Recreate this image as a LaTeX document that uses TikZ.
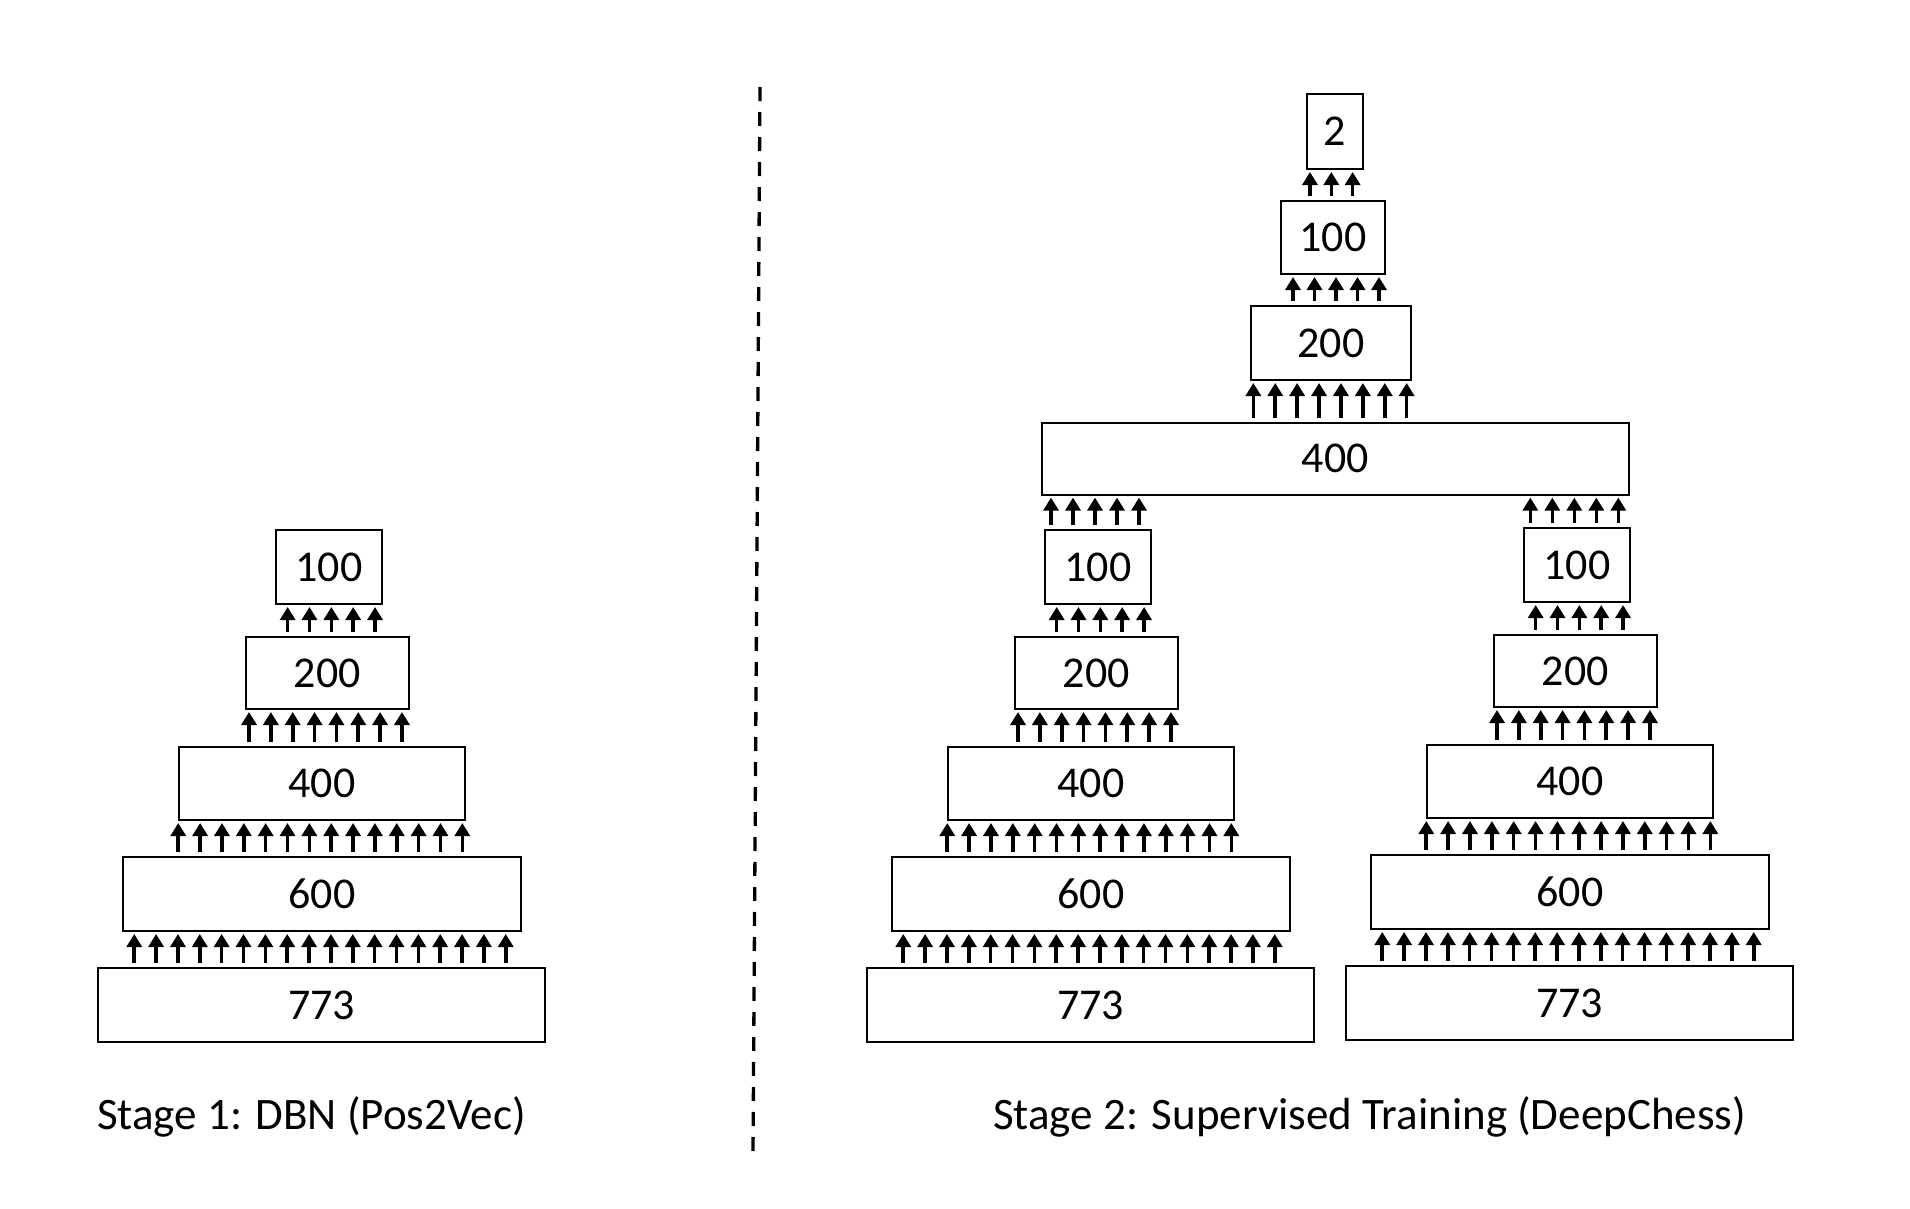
\documentclass[tikz,border=0pt]{standalone}
\usepackage{fontspec}
\setmainfont{Carlito}
\usetikzlibrary{arrows.meta,calc}
\tikzset{
  layer/.style={draw=black, line width=2pt, rectangle, inner sep=0pt, font=\fontsize{44}{50}\selectfont},
  uparrow/.style={line width=3.6pt, -{Triangle[width=15pt,length=13pt]}},
  stagelabel/.style={anchor=base west, inner sep=0pt, font=\fontsize{45}{52}\selectfont},
}
\newcommand\arrowrow[5]{%
  \foreach \i in {1,...,#3}{%
    \pgfmathsetmacro\dx{#4+(\i-(#3+1)/2)*#5}%
    \draw[uparrow] ($(#1.north)+(\dx,-4)$) -- ($(#1.north |- #2.south)+(\dx,2)$);
  }}
\newcommand\tower[3]{% #1 prefix, #2 x shift, #3 y shift
  \begin{scope}[shift={(#2,#3)}]
    \node[layer, minimum width=447pt, minimum height=74pt] (#1a) at (321.5,1005) {773};
    \node[layer, minimum width=398pt, minimum height=74pt] (#1b) at (322,894) {600};
    \node[layer, minimum width=286pt, minimum height=73pt] (#1c) at (322,783.5) {400};
    \node[layer, minimum width=162.5pt, minimum height=72pt] (#1d) at (327.25,673) {200};
    \node[layer, minimum width=106pt, minimum height=74pt] (#1e) at (329,567) {100};
  \end{scope}
  \arrowrow{#1a}{#1b}{18}{-1.5}{21.85}
  \arrowrow{#1b}{#1c}{14}{-1.7}{21.85}
  \arrowrow{#1c}{#1d}{8}{3.5}{21.85}
  \arrowrow{#1d}{#1e}{5}{4.1}{21.85}
}
\begin{document}
\begin{tikzpicture}[x=1pt,y=-1pt]
  \useasboundingbox (0,0) rectangle (1910,1208);
  \fill[white] (0,0) rectangle (1910,1208);
  % towers
  \tower{L}{0}{0}
  \tower{M}{769}{0}
  \tower{R}{1248}{-2}
  % top cluster
  \node[layer, minimum width=587.5pt, minimum height=72pt] (T4) at (1335.25,458.6) {400};
  \node[layer, minimum width=160pt, minimum height=74pt] (T3) at (1331,343) {200};
  \node[layer, minimum width=104pt, minimum height=73pt] (T2) at (1333,237.5) {100};
  \node[layer, minimum width=56pt, minimum height=75pt] (T1) at (1335,131.5) {2};
  \arrowrow{Me}{T4}{5}{-3}{22}
  \arrowrow{Re}{T4}{5}{-2.7}{22}
  \arrowrow{T4}{T3}{8}{-5.25}{21.9}
  \arrowrow{T3}{T2}{5}{5}{21.5}
  \arrowrow{T2}{T1}{3}{-1.7}{21.3}
  % divider
  \coordinate (dtop) at (760,87);
  \coordinate (dbot) at (753,1152);
  \draw[line width=3.3pt, dash pattern=on 14pt off 11pt] (dtop) -- (dbot);
  % labels
  \node[stagelabel] (s1) at (97,1129) {Stage 1: DBN (Pos2Vec)};
  \node[stagelabel] (s2) at (993,1129) {Stage 2: Supervised Training (DeepChess)};
\end{tikzpicture}
\end{document}
